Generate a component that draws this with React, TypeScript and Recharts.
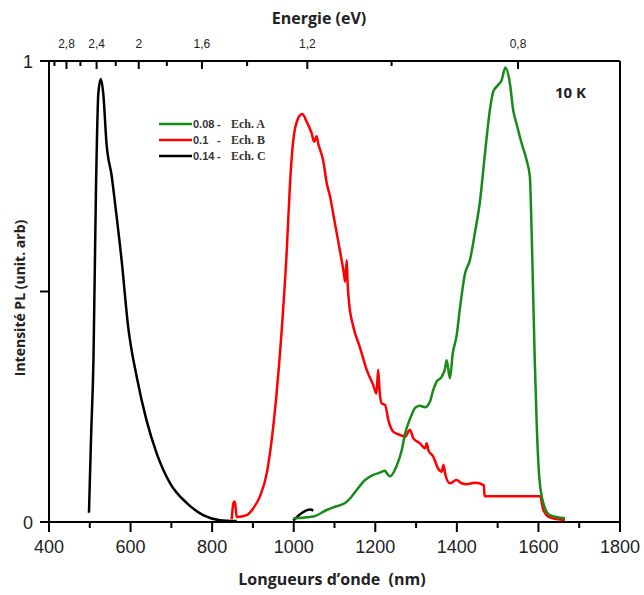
import React from "react";
import { LineChart, Line, XAxis, YAxis, ReferenceLine, Legend } from "recharts";

// PL spectra at 10 K, [wavelength nm, normalised intensity]
const echA: [number, number][] = [
  [999, 0.008], [1048, 0.012], [1081, 0.026], [1101, 0.033], [1126, 0.041],
  [1138, 0.051], [1154, 0.069], [1175, 0.091], [1195, 0.102], [1211, 0.107],
  [1224, 0.111], [1228, 0.106], [1236, 0.099], [1252, 0.121], [1265, 0.156],
  [1273, 0.192], [1281, 0.214], [1289, 0.232], [1297, 0.247], [1309, 0.252],
  [1322, 0.249], [1334, 0.261], [1342, 0.286], [1350, 0.304], [1363, 0.315],
  [1371, 0.333], [1375, 0.351], [1383, 0.312], [1390, 0.366], [1399, 0.402],
  [1408, 0.467], [1420, 0.539], [1432, 0.568], [1444, 0.626], [1457, 0.698],
  [1469, 0.8], [1481, 0.894], [1489, 0.933], [1501, 0.948], [1510, 0.959],
  [1519, 0.986], [1530, 0.952], [1538, 0.894], [1546, 0.865], [1559, 0.821],
  [1571, 0.785], [1579, 0.749], [1583, 0.641], [1587, 0.496], [1591, 0.351],
  [1596, 0.207], [1602, 0.098], [1612, 0.041], [1628, 0.015], [1665, 0.008],
];

const echB: [number, number][] = [
  [848, 0.006], [853, 0.044], [856, 0.044], [860, 0.011], [885, 0.015],
  [901, 0.03], [917, 0.055], [934, 0.106], [946, 0.178], [958, 0.279],
  [970, 0.409], [983, 0.59], [991, 0.735], [999, 0.829], [1011, 0.876],
  [1021, 0.885], [1032, 0.868], [1044, 0.843], [1050, 0.825], [1056, 0.837],
  [1060, 0.821], [1072, 0.785], [1081, 0.735], [1089, 0.706], [1101, 0.648],
  [1113, 0.59], [1123, 0.539], [1126, 0.521], [1130, 0.568], [1132, 0.521],
  [1135, 0.482], [1146, 0.424], [1162, 0.38], [1179, 0.33], [1195, 0.297],
  [1203, 0.279], [1207, 0.33], [1211, 0.279], [1216, 0.257], [1224, 0.254],
  [1232, 0.221], [1244, 0.196], [1260, 0.189], [1273, 0.185], [1285, 0.2],
  [1293, 0.182], [1309, 0.171], [1322, 0.16], [1326, 0.171], [1330, 0.156],
  [1342, 0.142], [1354, 0.116], [1363, 0.109], [1367, 0.124], [1372, 0.102],
  [1383, 0.084], [1399, 0.091], [1412, 0.084], [1424, 0.082], [1444, 0.085],
  [1466, 0.08], [1468, 0.056], [1604, 0.056], [1612, 0.026], [1628, 0.01],
  [1665, 0.004],
];

const echC: [number, number | null][] = [
  [498, 0.02], [503, 0.18], [509, 0.351], [515, 0.713], [521, 0.93],
  [527, 0.961], [533, 0.93], [541, 0.821], [554, 0.749], [562, 0.691],
  [578, 0.568], [594, 0.424], [615, 0.315], [639, 0.221], [664, 0.149],
  [697, 0.084], [738, 0.041], [778, 0.015], [819, 0.004], [860, 0.002],
  [930, null],
  [999, 0.003], [1019, 0.019], [1040, 0.027], [1048, 0.025],
];

const wavelengthTicks = [400, 500, 600, 700, 800, 900, 1000, 1100, 1200, 1300, 1400, 1500, 1600, 1700, 1800];
const energyValues = [3.0, 2.8, 2.6, 2.4, 2.2, 2.0, 1.8, 1.6, 1.4, 1.2, 1.0, 0.8];
const energyLabels = ["", "2,8", "", "2,4", "", "2", "", "1,6", "", "1,2", "", "0,8"];
const intensityTicks = [0, 0.5, 1];
const intensityLabels = ["0", "", "1"];

const seriesNums = ["0.08", "0.1", "0.14"];
const seriesNames = ["Ech. A", "Ech. B", "Ech. C"];
const seriesColors = ["#178a17", "#ff0000", "#000000"];

const toRows = (pts: [number, number | null][]) => pts.map(([nm, v]) => ({ nm, v }));
const energyTicks = energyValues.map((e) => 1240 / e);

const ARIAL = "'Liberation Sans', Arial, sans-serif";
const SANS = "'Open Sans', 'Noto Sans', sans-serif";

const BottomTick = (props: any) => {
  const { x, y, payload } = props;
  const major = payload.value % 200 === 0;
  return (
    <g>
      <line x1={x} x2={x} y1={y} y2={y + (major ? 10 : 6)} stroke="#000" strokeWidth={2} />
      {major && (
        <text x={x} y={y + 31} textAnchor="middle" fontSize={18} fontFamily={ARIAL} fill="#222">
          {payload.value}
        </text>
      )}
    </g>
  );
};

const TopTick = (props: any) => {
  const { x, y, payload } = props;
  const i = energyTicks.findIndex((t) => Math.abs(t - payload.value) < 0.5);
  const label = energyLabels[i] ?? "";
  return (
    <g>
      <line x1={x} x2={x} y1={y} y2={y + (label ? 8 : 5)} stroke="#000" strokeWidth={2} />
      {label && (
        <text x={x} y={y - 13} textAnchor="middle" fontSize={12} fontFamily={ARIAL} fill="#222">
          {label}
        </text>
      )}
    </g>
  );
};

const LeftTick = (props: any) => {
  const { x, y, payload } = props;
  const i = intensityTicks.indexOf(payload.value);
  return (
    <g>
      <line x1={x - 9} x2={x} y1={y} y2={y} stroke="#000" strokeWidth={2} />
      {intensityLabels[i] && (
        <text x={x - 16} y={y + 6.5} textAnchor="end" fontSize={18} fontFamily={ARIAL} fill="#222">
          {intensityLabels[i]}
        </text>
      )}
    </g>
  );
};

const SampleLegend = () => (
  <svg width={140} height={56}>
    {seriesNames.map((name, i) => {
      const y = 12 + i * 16;
      return (
        <g key={name}>
          <line x1={4} x2={37} y1={y} y2={y} stroke={seriesColors[i]} strokeWidth={2.5} />
          <text x={38} y={y + 4} fontSize={11} fontWeight="bold" fontFamily={ARIAL} fill="#333">
            {seriesNums[i]}
          </text>
          <text x={62} y={y + 4} fontSize={11} fontWeight="bold" fontFamily={ARIAL} fill="#333">
            -
          </text>
          <text x={76} y={y + 4} fontSize={12} fontWeight="bold" fontFamily="'Liberation Serif', serif" fill="#333">
            {name}
          </text>
        </g>
      );
    })}
  </svg>
);

export default function App() {
  return (
    <div style={{ position: "absolute", left: 0, top: 0, width: 644, height: 595, background: "#fff" }}>
      <LineChart width={644} height={595} margin={{ top: 21, right: 24, bottom: 33, left: 9 }}>
        <XAxis
          xAxisId="bottom"
          dataKey="nm"
          type="number"
          domain={[400, 1800]}
          ticks={wavelengthTicks}
          interval={0}
          height={40}
          tickSize={0}
          tickMargin={0}
          tick={<BottomTick />}
          axisLine={{ stroke: "#000", strokeWidth: 2 }}
          allowDataOverflow
        />
        <XAxis
          xAxisId="top"
          orientation="top"
          dataKey="nm"
          type="number"
          domain={[400, 1800]}
          ticks={energyTicks}
          interval={0}
          height={40}
          tickSize={0}
          tickMargin={0}
          tick={<TopTick />}
          axisLine={{ stroke: "#000", strokeWidth: 2 }}
          allowDataOverflow
        />
        <YAxis
          type="number"
          domain={[0, 1]}
          ticks={intensityTicks}
          interval={0}
          width={40}
          tickSize={0}
          tickMargin={0}
          tick={<LeftTick />}
          axisLine={{ stroke: "#000", strokeWidth: 2 }}
          allowDataOverflow
        />
        <ReferenceLine xAxisId="bottom" x={1800} stroke="#000" strokeWidth={2} />
        <Legend
          layout="vertical"
          align="center"
          verticalAlign="middle"
          content={<SampleLegend />}
          wrapperStyle={{ left: 155, top: 112, width: 140, height: 56 }}
        />
        <Line xAxisId="bottom" type="monotone" data={toRows(echC)} dataKey="v" stroke={seriesColors[2]} strokeWidth={2.5} dot={false} isAnimationActive={false} />
        <Line xAxisId="bottom" type="monotone" data={toRows(echB)} dataKey="v" stroke={seriesColors[1]} strokeWidth={2.5} dot={false} isAnimationActive={false} />
        <Line xAxisId="bottom" type="monotone" data={toRows(echA)} dataKey="v" stroke={seriesColors[0]} strokeWidth={2.5} dot={false} isAnimationActive={false} />
      </LineChart>
      <svg width={644} height={595} style={{ position: "absolute", left: 0, top: 0, pointerEvents: "none" }}>
        <text x={319} y={24} textAnchor="middle" fontSize={16} fontWeight="bold" fontFamily={SANS} fill="#222">
          Energie (eV)
        </text>
        <text x={332} y={585} textAnchor="middle" fontSize={16} fontWeight="bold" fontFamily={SANS} fill="#222" style={{ whiteSpace: "pre" }}>
          Longueurs d’onde  (nm)
        </text>
        <text
          x={25}
          y={298}
          transform="rotate(-90 25 298)"
          textAnchor="middle"
          fontSize={14}
          fontWeight="bold"
          fontFamily={SANS}
          fill="#222"
        >
          Intensité PL (unit. arb)
        </text>
        <text x={555} y={98} fontSize={15} fontWeight="bold" fontFamily={SANS} fill="#222">
          10 K
        </text>
      </svg>
    </div>
  );
}
